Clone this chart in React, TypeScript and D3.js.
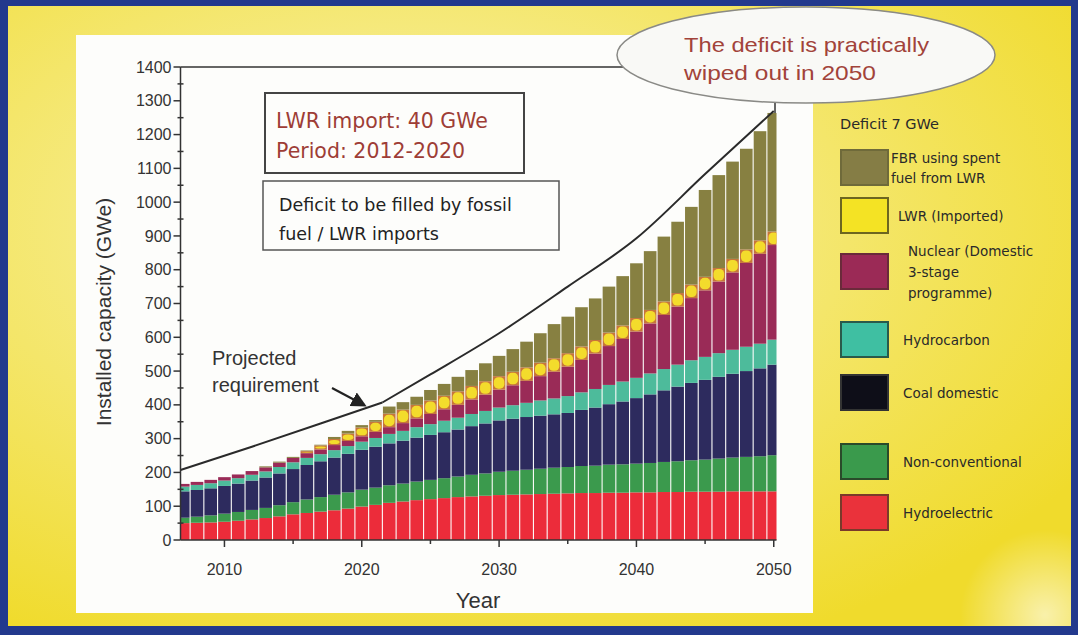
import React from 'react';
import * as d3 from 'd3';

// Installed capacity by source (GWe), one value per year
const years = [
  2007, 2008, 2009, 2010, 2011, 2012, 2013, 2014, 2015, 2016,
  2017, 2018, 2019, 2020, 2021, 2022, 2023, 2024, 2025, 2026,
  2027, 2028, 2029, 2030, 2031, 2032, 2033, 2034, 2035, 2036,
  2037, 2038, 2039, 2040, 2041, 2042, 2043, 2044, 2045, 2046,
  2047, 2048, 2049, 2050,
];
const hydroelectric = [
  50, 51, 52, 54, 57, 61, 65, 70, 76, 80,
  84, 88, 93, 99, 104, 110, 114, 118, 121, 124,
  127, 129, 131, 133, 134, 135, 136, 137, 138, 139,
  139, 140, 140, 141, 141, 142, 142, 143, 143, 143,
  144, 144, 144, 144,
];
const nonConventional = [
  16, 18, 21, 24, 26, 28, 30, 33, 36, 40,
  43, 46, 48, 50, 51, 52, 53, 55, 57, 59,
  61, 64, 66, 69, 71, 73, 75, 77, 78, 80,
  81, 83, 84, 85, 87, 89, 91, 93, 95, 98,
  100, 102, 104, 107,
];
const coalDomestic = [
  78, 79, 80, 82, 84, 87, 90, 94, 98, 102,
  106, 110, 114, 118, 121, 124, 127, 130, 133, 136,
  139, 144, 148, 152, 154, 156, 157, 158, 160, 166,
  172, 179, 186, 194, 203, 212, 221, 229, 236, 242,
  248, 254, 260, 268,
];
const hydrocarbon = [
  14, 15, 15, 16, 16, 17, 18, 19, 20, 21,
  21, 22, 23, 24, 26, 28, 29, 31, 32, 34,
  35, 36, 37, 38, 40, 42, 45, 47, 50, 52,
  55, 57, 59, 60, 62, 63, 65, 67, 68, 70,
  71, 72, 73, 74,
];
const nuclearDomestic = [
  8, 9, 10, 10, 11, 11, 12, 13, 13, 14,
  14, 15, 15, 16, 18, 20, 23, 26, 30, 34,
  38, 43, 48, 53, 59, 65, 72, 79, 87, 96,
  105, 115, 126, 137, 148, 160, 172, 184, 197, 212,
  229, 248, 266, 280,
];
const lwrImported = [
  0, 0, 0, 0, 0, 0, 0, 0, 0, 6,
  12, 18, 22, 26, 30, 40, 40, 40, 40, 40,
  40, 40, 40, 40, 40, 40, 40, 40, 40, 40,
  40, 40, 40, 40, 40, 40, 40, 40, 40, 40,
  40, 40, 40, 40,
];
const fbrSpentFuel = [
  0, 0, 0, 0, 0, 0, 3, 3, 3, 2,
  2, 6, 8, 7, 5, 21, 22, 24, 31, 35,
  43, 47, 53, 60, 67, 76, 87, 101, 108, 116,
  123, 136, 146, 162, 174, 192, 211, 230, 257, 275,
  288, 298, 323, 351,
];

// Projected requirement: straight rise to the 2021 bend, then a smooth climb
const requirementYears = [2006.8, 2012, 2017, 2021.5, 2025, 2030, 2035, 2040, 2045, 2050];
const requirementValues = [207, 276, 345, 407, 490, 612, 750, 893, 1083, 1270];
const requirementBendIndex = 3;

const yTicks = [0, 100, 200, 300, 400, 500, 600, 700, 800, 900, 1000, 1100, 1200, 1300, 1400];
const yMinorTicks = [50, 150, 250, 350, 450, 550, 650, 750, 850, 950, 1050, 1150, 1250, 1350];
const xTicks = [2010, 2020, 2030, 2040, 2050];
const xMinorTicks = [2015, 2025, 2035, 2045];

const seriesKeys = ['hydro', 'nonconv', 'coal', 'hydrocarbon', 'nuclear', 'lwr', 'fbr'];
const seriesColors: Record<string, string> = {
  hydro: '#ec2c3a',
  nonconv: '#3b9a4d',
  coal: '#2d2b5e',
  hydrocarbon: '#4dbb9b',
  nuclear: '#9a2b57',
  lwr: '#f3dc2c',
  fbr: '#878041',
};

const legendItems = [
  { label: ['FBR using spent', 'fuel from LWR'], fill: '#857d45', stroke: '#6f6a3a' },
  { label: ['LWR (Imported)'], fill: '#f4e324', stroke: '#6d6620' },
  { label: ['Nuclear (Domestic', '3-stage', 'programme)'], fill: '#9b2a56', stroke: '#6a2a3a' },
  { label: ['Hydrocarbon'], fill: '#3fbfa2', stroke: '#2a5a4a' },
  { label: ['Coal domestic'], fill: '#0e0e18', stroke: '#333' },
  { label: ['Non-conventional'], fill: '#3a9a4c', stroke: '#2a4a2a' },
  { label: ['Hydroelectric'], fill: '#ea323b', stroke: '#7a3a2a' },
];

const W = 1078;
const H = 635;

export default function App() {
  const x = d3.scaleLinear().domain([2006.8, 2050.2]).range([180.5, 776.5]);
  const y = d3.scaleLinear().domain([0, 1400]).range([540, 67]);

  const rows = years.map((yr, i) => ({
    year: yr,
    hydro: hydroelectric[i],
    nonconv: nonConventional[i],
    coal: coalDomestic[i],
    hydrocarbon: hydrocarbon[i],
    nuclear: nuclearDomestic[i],
    lwr: lwrImported[i],
    fbr: fbrSpentFuel[i],
  }));
  const stacked = d3.stack<any>().keys(seriesKeys)(rows);

  const reqPoints: [number, number][] = requirementYears.map((yr, i) => [yr, requirementValues[i]]);
  const reqStraight = d3
    .line<[number, number]>()
    .x((d) => x(d[0]))
    .y((d) => y(d[1]))(reqPoints.slice(0, requirementBendIndex + 1));
  const reqCurve = d3
    .line<[number, number]>()
    .x((d) => x(d[0]))
    .y((d) => y(d[1]))
    .curve(d3.curveMonotoneX)(reqPoints.slice(requirementBendIndex));

  const gap = 0.55;
  const sans = "'Liberation Sans', Arial, sans-serif";
  const verd = "'DejaVu Sans', Verdana, sans-serif";

  // legend layout (swatch top edges)
  const legendTops = [150, 198, 254, 322, 375, 444, 495];

  return (
    <svg width={W} height={H} style={{ position: 'absolute', left: 0, top: 0, display: 'block' }}>
      <defs>
        <radialGradient id="slideBg" cx="0.38" cy="0.35" r="0.75">
          <stop offset="0" stopColor="#f9f3b4" />
          <stop offset="0.55" stopColor="#f4e66a" />
          <stop offset="1" stopColor="#f0db2c" />
        </radialGradient>
        <radialGradient id="glow" cx="1045" cy="615" r="85" gradientUnits="userSpaceOnUse">
          <stop offset="0" stopColor="#ffffff" stopOpacity="0.6" />
          <stop offset="1" stopColor="#ffffff" stopOpacity="0" />
        </radialGradient>
        <clipPath id="plotClip">
          <rect x={x(2006.8)} y={y(1400)} width={x(2050.2) - x(2006.8)} height={y(0) - y(1400)} />
        </clipPath>
        <marker id="arrowHead" viewBox="0 0 10 10" refX="8" refY="5" markerWidth="7" markerHeight="7" orient="auto">
          <path d="M0,0 L10,5 L0,10 z" fill="#222" />
        </marker>
      </defs>

      {/* slide frame and background */}
      <rect x={0} y={0} width={W} height={H} fill="#22398d" />
      <rect x={8} y={6} width={1063} height={620} fill="url(#slideBg)" />
      <rect x={8} y={6} width={1063} height={620} fill="url(#glow)" />

      {/* white chart panel */}
      <rect x={76} y={35} width={737} height={578} fill="#fdfdfb" />

      {/* stacked bars */}
      <g clipPath="url(#plotClip)">
        {stacked.map((layer) =>
          layer.map((seg, i) => {
            const yr = years[i];
            const x0 = x(yr - 0.5) + gap;
            const x1 = x(yr + 0.5) - gap;
            const top = y(seg[1]);
            const bot = y(seg[0]);
            const h = bot - top;
            if (h <= 0) return null;
            if (layer.key === 'lwr') {
              return (
                <g key={`${layer.key}-${yr}`}>
                  <rect x={x0} y={top} width={x1 - x0} height={h} fill="#c7763a" />
                  <rect
                    x={x0 + 1}
                    y={top + 1}
                    width={x1 - x0 - 2}
                    height={Math.max(h - 2, 0.5)}
                    rx={Math.min(4.5, (x1 - x0) / 2)}
                    ry={Math.min(4.5, h / 2)}
                    fill={seriesColors.lwr}
                  />
                </g>
              );
            }
            return (
              <rect
                key={`${layer.key}-${yr}`}
                x={x0}
                y={top}
                width={x1 - x0}
                height={h}
                fill={seriesColors[layer.key as string]}
              />
            );
          })
        )}
      </g>

      {/* projected requirement */}
      <g fill="none" stroke="#2a2a2a" strokeWidth={2} strokeLinejoin="round">
        <path d={reqStraight ?? ''} />
        <path d={reqCurve ?? ''} />
      </g>

      {/* axes */}
      <g stroke="#333" strokeWidth={1.5}>
        <line x1={x(2006.8)} x2={x(2006.8)} y1={y(0)} y2={y(1400)} />
        <line x1={x(2006.8)} x2={x(2050.2)} y1={y(0)} y2={y(0)} />
        <line x1={x(2006.8)} x2={x(2050.2)} y1={y(1400)} y2={y(1400)} />
        {yTicks.map((t) => (
          <line key={`yt${t}`} x1={x(2006.8) - 7} x2={x(2006.8)} y1={y(t)} y2={y(t)} />
        ))}
        {yMinorTicks.map((t) => (
          <line key={`ym${t}`} x1={x(2006.8) - 3} x2={x(2006.8) + 3} y1={y(t)} y2={y(t)} />
        ))}
        {xTicks.map((t) => (
          <line key={`xt${t}`} x1={x(t)} x2={x(t)} y1={y(0)} y2={y(0) + 7} />
        ))}
        {xMinorTicks.map((t) => (
          <line key={`xm${t}`} x1={x(t)} x2={x(t)} y1={y(0)} y2={y(0) + 4} />
        ))}
      </g>
      <g fontFamily={sans} fontSize={16} fill="#333">
        {yTicks.map((t) => (
          <text key={`yl${t}`} x={x(2006.8) - 9} y={y(t)} dy="0.35em" textAnchor="end">
            {t}
          </text>
        ))}
        {xTicks.map((t) => (
          <text key={`xl${t}`} x={x(t)} y={575} textAnchor="middle">
            {t}
          </text>
        ))}
      </g>
      <text x={478} y={608} textAnchor="middle" fontFamily={sans} fontSize={22} fill="#333">
        Year
      </text>
      <text
        transform="translate(111,312) rotate(-90)"
        textAnchor="middle"
        fontFamily={sans}
        fontSize={21}
        fill="#333"
      >
        Installed capacity (GWe)
      </text>

      {/* projected requirement label */}
      <g fontFamily={sans} fontSize={20} fill="#333">
        <text x={212} y={365}>Projected</text>
        <text x={212} y={392}>requirement</text>
      </g>
      <line x1={332} y1={388} x2={364} y2={405} stroke="#222" strokeWidth={2.2} markerEnd="url(#arrowHead)" />

      {/* LWR import box */}
      <rect x={265} y={93} width={259} height={80} fill="#fdfdfb" stroke="#444" strokeWidth={2} />
      <g fontFamily={verd} fontSize={20.5} fill="#9e3d36">
        <text x={276} y={128}>LWR import: 40 GWe</text>
        <text x={276} y={158}>Period: 2012-2020</text>
      </g>

      {/* deficit box */}
      <rect x={263} y={181} width={296} height={69} fill="#fdfdfb" stroke="#555" strokeWidth={1.5} />
      <g fontFamily={verd} fontSize={17.5} fill="#222">
        <text x={279} y={211}>Deficit to be filled by fossil</text>
        <text x={279} y={240}>fuel / LWR imports</text>
      </g>

      {/* callout */}
      <line x1={775} y1={100} x2={775} y2={113} stroke="#333" strokeWidth={1.5} />
      <ellipse cx={806} cy={55} rx={189} ry={48} fill="#f9f9f6" stroke="#8a8a86" strokeWidth={1.5} />
      <g fontFamily={sans} fontSize={21} fill="#a2433a" fontWeight={500}>
        <text x={684} y={52} textLength={245} lengthAdjust="spacingAndGlyphs">
          The deficit is practically
        </text>
        <text x={684} y={80} textLength={192} lengthAdjust="spacingAndGlyphs">
          wiped out in 2050
        </text>
      </g>

      {/* legend */}
      <text x={840} y={129} fontFamily={verd} fontSize={14.5} fill="#2a2a2a">
        Deficit 7 GWe
      </text>
      {legendItems.map((item, i) => {
        const top = legendTops[i];
        const lines = item.label;
        const lineH = lines.length > 2 ? 21 : 20;
        const cy = top + 18;
        const startY = cy - ((lines.length - 1) * lineH) / 2;
        const tx = i === 0 ? 891 : i === 1 ? 898 : i === 2 ? 908 : 903;
        return (
          <g key={`lg${i}`}>
            <rect x={841} y={top} width={47} height={35} fill={item.fill} stroke={item.stroke} strokeWidth={2} />
            <g fontFamily={verd} fontSize={13.5} fill="#2a2a2a">
              {lines.map((ln, j) => (
                <text key={j} x={tx} y={startY + j * lineH} dy="0.35em">
                  {ln}
                </text>
              ))}
            </g>
          </g>
        );
      })}
    </svg>
  );
}
